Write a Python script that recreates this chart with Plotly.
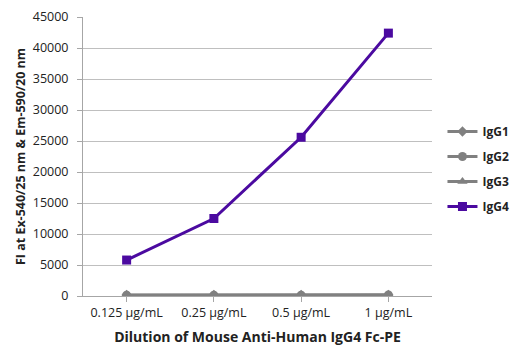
import plotly.graph_objects as go

categories = ["0.125 µg/mL", "0.25 µg/mL", "0.5 µg/mL", "1 µg/mL"]
igg1 = [150, 150, 150, 180]
igg2 = [120, 130, 140, 160]
igg3 = [100, 110, 120, 140]
igg4 = [5800, 12500, 25600, 42400]
y_ticks = [0, 5000, 10000, 15000, 20000, 25000, 30000, 35000, 40000, 45000]

gray = "#808080"
purple = "#4b0aa0"

fig = go.Figure()
series = [
    ("IgG1", igg1, "diamond", gray, 8),
    ("IgG2", igg2, "circle", gray, 9),
    ("IgG3", igg3, "triangle-up", gray, 9),
    ("IgG4", igg4, "square", purple, 9),
]
for name, vals, sym, col, sz in series:
    fig.add_trace(go.Scatter(
        x=list(range(len(categories))), y=vals, name=name, mode="lines+markers",
        legendgroup=name,
        line=dict(color=col, width=3),
        marker=dict(symbol=sym, size=sz, color=col),
    ))

fig.update_layout(
    width=516, height=346,
    margin=dict(l=83, r=84, t=17, b=50, autoexpand=False),
    paper_bgcolor="white", plot_bgcolor="white",
    font=dict(family="Open Sans, Noto Sans, sans-serif", size=12.5, color="#222"),
    showlegend=True,
    legend=dict(x=1.03, y=0.455, xanchor="left", yanchor="middle",
                font=dict(size=12, color="#222", family="Open Sans, sans-serif", weight="bold"),
                traceorder="grouped", tracegroupgap=6, itemwidth=30,
                bgcolor="rgba(0,0,0,0)"),
    xaxis=dict(
        range=[-0.5, 3.5], tickmode="array", tickvals=list(range(len(categories))),
        ticktext=categories, showgrid=False, showline=True, linecolor="#a6a6a6", linewidth=1,
        ticks="outside", tickson="boundaries", ticklen=5, tickcolor="#a6a6a6",
        zeroline=False, tickfont=dict(size=12.5, color="#222"), automargin=False,
        title=dict(text="<b>Dilution of Mouse Anti-Human IgG4 Fc-PE</b>",
                   font=dict(size=14, color="#222"), standoff=12),
    ),
    yaxis=dict(
        range=[0, 45000], tickmode="array", tickvals=y_ticks,
        ticktext=[str(v) for v in y_ticks],
        showgrid=True, gridcolor="#bfbfbf", gridwidth=1,
        showline=True, linecolor="#a6a6a6", linewidth=1,
        ticks="outside", ticklen=5, tickcolor="#a6a6a6", ticklabelstandoff=6,
        zeroline=False, tickfont=dict(size=12.5, color="#222"), automargin=False,
        title=dict(text="<b>FI at Ex-540/25 nm & Em-590/20 nm</b>",
                   font=dict(size=12.5, color="#222"), standoff=4),
    ),
)

fig.write_html("out.html", config={"displayModeBar": False},
               post_script="document.body.style.margin='0px';document.body.style.overflow='hidden';")
